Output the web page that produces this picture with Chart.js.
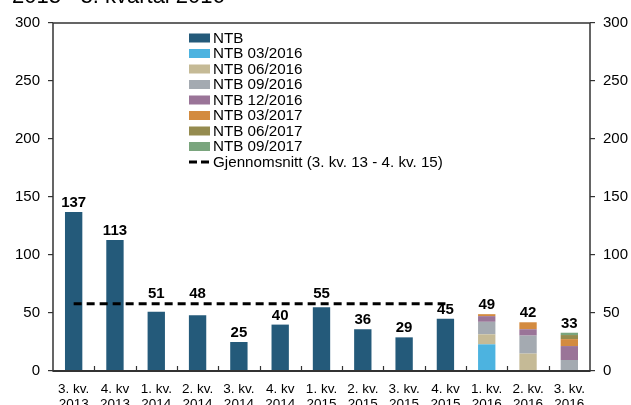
<!DOCTYPE html>
<html>
<head>
<meta charset="utf-8">
<script src="https://cdn.jsdelivr.net/npm/chart.js@4/dist/chart.umd.min.js"></script>
<style>
  html, body { margin: 0; padding: 0; background: #ffffff; }
  #wrap { width: 631px; height: 405px; position: relative; overflow: hidden; }
</style>
</head>
<body>
<div id="wrap"><canvas id="chart" width="631" height="405"></canvas></div>
<script>
// quarters on the x axis (two lines each)
const quarters = [
    ["3. kv.", "2013"], ["4. kv", "2013"], ["1. kv.", "2014"], ["2. kv.", "2014"],
    ["3. kv.", "2014"], ["4. kv", "2014"], ["1. kv.", "2015"], ["2. kv.", "2015"],
    ["3. kv.", "2015"], ["4. kv", "2015"], ["1. kv.", "2016"], ["2. kv.", "2016"],
    ["3. kv.", "2016"]
];
// series values (null where the series has no bar)
const ntb       = [137, 113, 51, 48, 25, 40, 55, 36, 29, 45, null, null, null];
const ntb0316   = [null, null, null, null, null, null, null, null, null, null, 23, null, null];
const ntb0616   = [null, null, null, null, null, null, null, null, null, null, 8.6, 15, null];
const ntb0916   = [null, null, null, null, null, null, null, null, null, null, 10.8, 15.5, 9.5];
const ntb1216   = [null, null, null, null, null, null, null, null, null, null, 4.9, 5.5, 12];
const ntb0317   = [null, null, null, null, null, null, null, null, null, null, 1.7, 6, 6];
const ntb0617   = [null, null, null, null, null, null, null, null, null, null, null, null, 3.5];
const ntb0917   = [null, null, null, null, null, null, null, null, null, null, null, null, 2];
const average   = [57.9, 57.9, 57.9, 57.9, 57.9, 57.9, 57.9, 57.9, 57.9, 57.9, null, null, null];
// numbers printed over the bars
const totals    = [137, 113, 51, 48, 25, 40, 55, 36, 29, 45, 49, 42, 33];
const yTicks    = [0, 50, 100, 150, 200, 250, 300];

const FONT = "'Liberation Sans', Arial, sans-serif";

function barSet(label, data, color) { //one stacked bar series
    return {
        type: 'bar',
        label: label,
        data: data,
        backgroundColor: color,
        borderWidth: 0,
        stack: 's',
        yAxisID: 'y',
        categoryPercentage: 1,
        barPercentage: 0.42,
        order: 2
    };
}

const framePlugin = { //box frame, inner x ticks, value labels, legend and cut-off title
    id: 'frame',
    afterDatasetsDraw(chart) {
        const ctx = chart.ctx;
        const a = chart.chartArea;
        const x = chart.scales.x;
        const y = chart.scales.y;
        ctx.save();

        // frame
        ctx.strokeStyle = '#333333';
        ctx.lineWidth = 1.5;
        ctx.strokeRect(a.left, a.top, a.right - a.left, a.bottom - a.top);
        ctx.lineWidth = 2;
        ctx.beginPath();
        ctx.moveTo(a.left, a.bottom);
        ctx.lineTo(a.right, a.bottom);
        ctx.stroke();

        // small x ticks between categories, pointing up
        const step = (a.right - a.left) / quarters.length;
        ctx.lineWidth = 1.2;
        ctx.beginPath();
        for (let i = 1; i < quarters.length; i++) {
            const px = Math.round(a.left + step * i) + 0.5;
            ctx.moveTo(px, a.bottom);
            ctx.lineTo(px, a.bottom - 5);
        }
        ctx.stroke();

        // value labels, lifted over the dashed average line where they would cross it
        const lastAvg = average.reduce((m, v, i) => (v !== null ? i : m), -1);
        ctx.fillStyle = '#000000';
        ctx.font = 'bold 15px ' + FONT;
        ctx.textAlign = 'center';
        ctx.textBaseline = 'alphabetic';
        totals.forEach((v, i) => {
            let base = y.getPixelForValue(v) - 5;
            if (i < lastAvg && average[i] !== null) {
                const ly = y.getPixelForValue(average[i]);
                if (base > ly - 3 && base - 11 < ly + 3) base = ly - 6;
            }
            ctx.fillText(String(v), x.getPixelForValue(i), base);
        });

        // legend inside the plot
        const lx = 189, ly0 = 38, dy = 15.5;
        ctx.font = '15.2px ' + FONT;
        ctx.textAlign = 'left';
        ctx.textBaseline = 'middle';
        chart.data.datasets.forEach((ds, i) => {
            const cy = ly0 + dy * i;
            if (ds.type === 'line') {
                ctx.strokeStyle = '#000000';
                ctx.lineWidth = 3;
                ctx.setLineDash([8, 4]);
                ctx.beginPath();
                ctx.moveTo(lx, cy);
                ctx.lineTo(lx + 21, cy);
                ctx.stroke();
                ctx.setLineDash([]);
            } else {
                ctx.fillStyle = ds.backgroundColor;
                ctx.fillRect(lx, cy - 4.5, 21, 9);
            }
            ctx.fillStyle = '#000000';
            ctx.fillText(ds.label, lx + 24, cy + 0.5);
        });

        // title, mostly above the picture
        ctx.font = '22px ' + FONT;
        ctx.textBaseline = 'alphabetic';
        ctx.fillText('2013 - 3. kvartal 2016', 12, 3);
        ctx.restore();
    }
};

const ctx = document.getElementById('chart').getContext('2d');
const chart = new Chart(ctx, {
    data: {
        labels: quarters,
        datasets: [
            barSet('NTB', ntb, '#245a7a'),
            barSet('NTB 03/2016', ntb0316, '#4cb3e0'),
            barSet('NTB 06/2016', ntb0616, '#c5ba96'),
            barSet('NTB 09/2016', ntb0916, '#a4aab1'),
            barSet('NTB 12/2016', ntb1216, '#9a7498'),
            barSet('NTB 03/2017', ntb0317, '#d38b40'),
            barSet('NTB 06/2017', ntb0617, '#958b4f'),
            barSet('NTB 09/2017', ntb0917, '#7aa57d'),
            {
                type: 'line',
                label: 'Gjennomsnitt (3. kv. 13 - 4. kv. 15)',
                data: average,
                borderColor: '#000000',
                borderWidth: 3,
                borderDash: [8, 5],
                pointRadius: 0,
                fill: false,
                yAxisID: 'y',
                order: 1
            }
        ]
    },
    options: {
        responsive: false,
        animation: false,
        layout: { padding: { top: 23, left: 0, right: 0, bottom: 0 } },
        plugins: {
            legend: { display: false },
            tooltip: { enabled: false }
        },
        scales: {
            x: {
                stacked: true,
                offset: true,
                grid: { display: false },
                border: { display: false },
                ticks: {
                    color: '#000000',
                    font: { family: FONT, size: 13.5, lineHeight: 1.12 },
                    padding: 3,
                    maxRotation: 0,
                    autoSkip: false
                },
                afterFit(s) { s.height = 34; }
            },
            y: {
                position: 'left',
                stacked: true,
                min: 0,
                max: 300,
                afterBuildTicks(s) { s.ticks = yTicks.map(v => ({ value: v })); },
                grid: { drawOnChartArea: false, tickLength: 5, color: '#333333', lineWidth: 1.2 },
                border: { display: false },
                ticks: { color: '#000000', font: { family: FONT, size: 15 }, padding: 8 },
                afterFit(s) { s.width = 53; }
            },
            y2: {
                position: 'right',
                min: 0,
                max: 300,
                afterBuildTicks(s) { s.ticks = yTicks.map(v => ({ value: v })); },
                grid: { drawOnChartArea: false, tickLength: 5, color: '#333333', lineWidth: 1.2 },
                border: { display: false },
                ticks: { color: '#000000', font: { family: FONT, size: 15 }, padding: 8 },
                afterFit(s) { s.width = 41; }
            }
        }
    },
    plugins: [framePlugin]
});
</script>
</body>
</html>
